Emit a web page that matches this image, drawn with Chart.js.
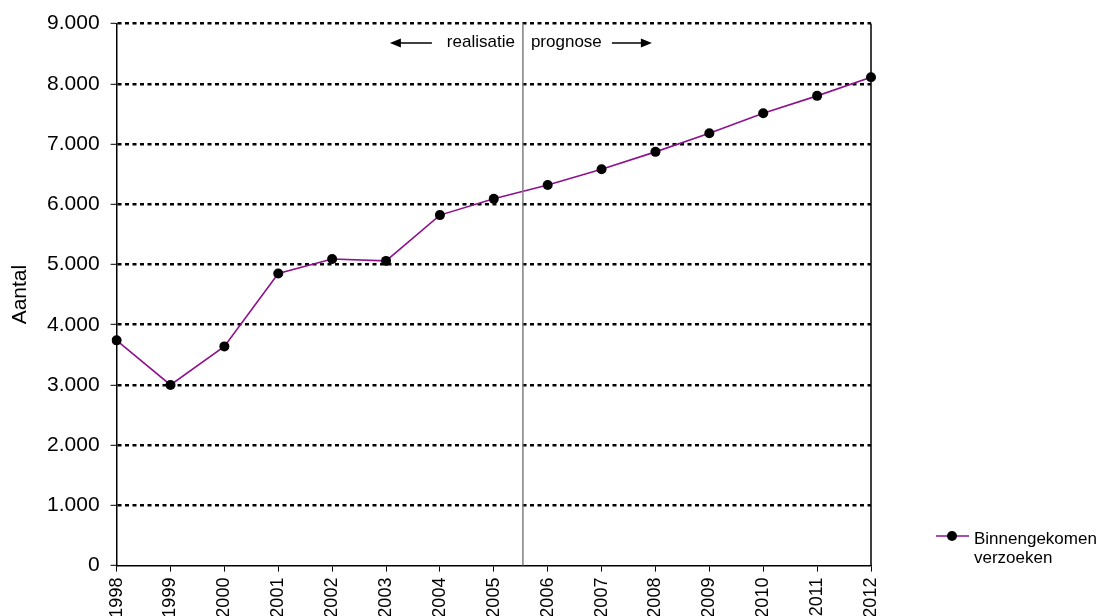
<!DOCTYPE html>
<html>
<head>
<meta charset="utf-8">
<script src="https://cdn.jsdelivr.net/npm/chart.js@4/dist/chart.umd.min.js"></script>
<style>
  html, body { margin: 0; padding: 0; background: #fff; }
  #wrap { width: 1104px; height: 616px; }
</style>
</head>
<body>
<div id="wrap"><canvas id="requestsChart" width="1104" height="616"></canvas></div>
<script>
const years = ['1998', '1999', '2000', '2001', '2002', '2003', '2004', '2005',
               '2006', '2007', '2008', '2009', '2010', '2011', '2012'];
const requests = [3740, 3000, 3640, 4850, 5090, 5060, 5820, 6090,
                  6320, 6580, 6870, 7180, 7510, 7800, 8110];
const seriesLabel = ['Binnengekomen', 'verzoeken'];
const axisTitle = 'Aantal';
const leftNote = 'realisatie';
const rightNote = 'prognose';
const splitIndex = 7.54; // between 2005 and 2006

const font = '"Liberation Sans", Arial, sans-serif';
const purple = '#8e118e';

const formatThousands = (v) => v === 0 ? '0' : (v / 1000) + '.000';

const arrow = (ctx, x1, x2, y) => {
    const dir = Math.sign(x2 - x1);
    ctx.beginPath();
    ctx.moveTo(x1, y);
    ctx.lineTo(x2 - dir * 9, y);
    ctx.stroke();
    ctx.beginPath();
    ctx.moveTo(x2, y);
    ctx.lineTo(x2 - dir * 11, y - 4.5);
    ctx.lineTo(x2 - dir * 11, y + 4.5);
    ctx.closePath();
    ctx.fill();
};

const extras = {
    id: 'extras',
    afterDraw(chart) {
        const { ctx, chartArea: a, scales: { x } } = chart;
        ctx.save();

        // right frame line
        ctx.strokeStyle = '#000';
        ctx.lineWidth = 1.5;
        ctx.beginPath();
        ctx.moveTo(a.right, a.top);
        ctx.lineTo(a.right, a.bottom);
        ctx.stroke();

        // split between realisation and forecast
        const sx = x.getPixelForValue(splitIndex);
        ctx.strokeStyle = '#808080';
        ctx.lineWidth = 1.5;
        ctx.beginPath();
        ctx.moveTo(sx, a.top);
        ctx.lineTo(sx, a.bottom);
        ctx.stroke();

        ctx.fillStyle = '#000';
        ctx.strokeStyle = '#000';
        ctx.lineWidth = 1.5;
        ctx.font = '17px ' + font;
        ctx.textBaseline = 'middle';
        ctx.textAlign = 'right';
        ctx.fillText(leftNote, sx - 8, 42);
        ctx.textAlign = 'left';
        ctx.fillText(rightNote, sx + 8, 42);
        arrow(ctx, sx - 91, sx - 133, 43);
        arrow(ctx, sx + 89, sx + 129, 43);

        // legend
        const ly = 536;
        ctx.strokeStyle = purple;
        ctx.lineWidth = 1.6;
        ctx.beginPath();
        ctx.moveTo(936, ly);
        ctx.lineTo(969, ly);
        ctx.stroke();
        ctx.fillStyle = '#000';
        ctx.beginPath();
        ctx.arc(952, ly, 5, 0, Math.PI * 2);
        ctx.fill();
        ctx.textAlign = 'left';
        ctx.fillText(seriesLabel[0], 974, 539);
        ctx.fillText(seriesLabel[1], 974, 558);

        ctx.restore();
    }
};

const ctx = document.getElementById('requestsChart').getContext('2d');
const requestsChart = new Chart(ctx, {
    type: 'line',
    data: {
        labels: years,
        datasets: [{
            label: seriesLabel.join(' '),
            data: requests,
            borderColor: purple,
            borderWidth: 1.6,
            pointBackgroundColor: '#000',
            pointBorderColor: '#000',
            pointRadius: 5,
            pointBorderWidth: 0,
            tension: 0,
            fill: false
        }]
    },
    options: {
        responsive: false,
        animation: false,
        layout: { padding: { top: 21, right: 233, bottom: 0, left: 0 } },
        plugins: {
            legend: { display: false },
            tooltip: { enabled: false }
        },
        scales: {
            x: {
                offset: false,
                grid: {
                    drawOnChartArea: false,
                    drawTicks: true,
                    tickLength: 6,
                    tickColor: '#000',
                    tickWidth: 1
                },
                border: { color: '#000', width: 1.5 },
                ticks: {
                    color: '#000',
                    font: { family: font, size: 18 },
                    maxRotation: 90,
                    minRotation: 90,
                    padding: 6,
                    autoSkip: false
                },
                afterFit(scale) { scale.height = 50.4; }
            },
            y: {
                min: 0,
                max: 9000,
                grid: {
                    color: (c) => c.tick && c.tick.value === 0 ? 'rgba(0,0,0,0)' : '#000',
                    lineWidth: 2.6,
                    tickLength: 6,
                    tickColor: '#000',
                    tickWidth: 1
                },
                border: { color: '#000', width: 1.5, dash: [4, 3.5] },
                ticks: {
                    stepSize: 1000,
                    color: '#000',
                    font: { family: font, size: 21 },
                    padding: 11,
                    callback: (v) => formatThousands(v)
                },
                title: {
                    display: true,
                    text: axisTitle,
                    color: '#000',
                    font: { family: font, size: 21 },
                    padding: { top: 8, bottom: 4 }
                },
                afterFit(scale) { scale.width = 116.6; }
            }
        }
    },
    plugins: [extras]
});
</script>
</body>
</html>
